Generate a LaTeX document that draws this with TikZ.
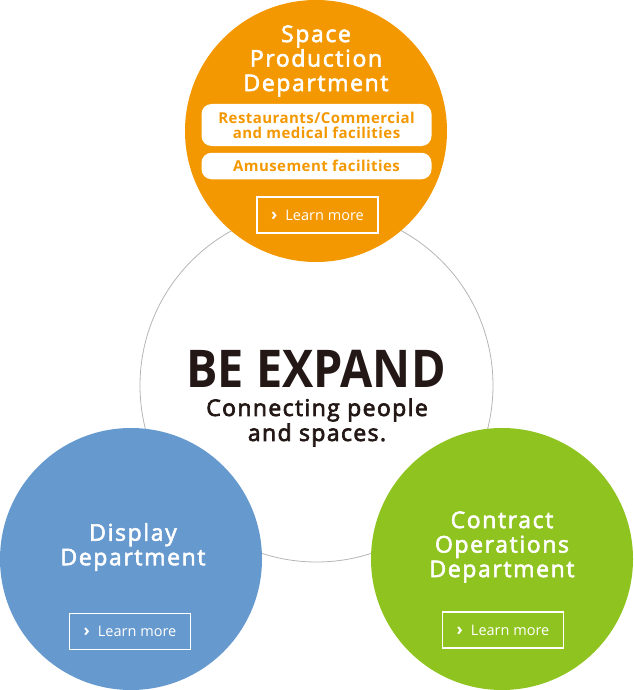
\documentclass[tikz,border=0pt]{standalone}
\usepackage{fontspec}
\setmainfont{Open Sans}
\newfontfamily\titlefont[LetterSpace=7, FakeBold=2.5]{Open Sans}
\newfontfamily\tagfont[LetterSpace=3]{Open Sans}
\newfontfamily\slogfont[LetterSpace=6, FakeBold=3]{Open Sans}
\newfontfamily\brandfont[FakeStretch=0.9]{Open Sans}
\usepackage{xcolor}
\definecolor{spaceorange}{HTML}{F39800}
\definecolor{displayblue}{HTML}{6699CE}
\definecolor{contractgreen}{HTML}{8FC31F}
\definecolor{inkdark}{HTML}{231815}
\definecolor{ringgray}{HTML}{B5B5B5}

\begin{document}
\begin{tikzpicture}[x=1pt, y=-1pt,
  dept/.style={circle, minimum size=262pt, inner sep=0pt},
  depttitle/.style={text=white, align=center, inner sep=0pt, font=\titlefont\fontsize{23}{24.5}\selectfont},
  tagbox/.style={fill=white, rounded corners=10pt, minimum width=230pt, inner sep=0pt, text=spaceorange, align=center, font=\tagfont\bfseries\fontsize{15}{15}\selectfont},
  btn/.style={draw=white, line width=1.5pt, minimum width=121pt, minimum height=36pt, inner sep=0pt, text=white, font=\fontsize{14.5}{14.5}\selectfont}]
\useasboundingbox (0,0) rectangle (633,690);
\node[circle, draw=ringgray, line width=0.8pt, minimum size=353pt, inner sep=0pt] (ring) at (316.5,385.5) {};
\foreach \nm/\x/\y/\col in {space/316/131/spaceorange, display/131/559/displayblue, contract/502/559/contractgreen}
  \node[dept, fill=\col] (\nm) at (\x,\y) {};

\node[depttitle] (spacetitle) at (316,61) {Space\\Production\\Department};
\node[tagbox, minimum height=42pt] (tagrest) at (316.5,125) {Restaurants/Commercial\\and medical facilities};
\node[tagbox, minimum height=26.5pt] (tagamuse) at (316.5,166) {Amusement facilities};
\node[depttitle] (displaytitle) at (133,547) {Display\\Department};
\node[depttitle] (contracttitle) at (502,547) {Contract\\Operations\\Department};
\foreach \nm/\x/\y in {spacebtn/317.5/215, displaybtn/130/631.5, contractbtn/503/630}
  \node[btn] (\nm) at (\x,\y) {{\bfseries\fontsize{17}{17}\selectfont ›}\hspace{8pt}Learn more};

\node[text=inkdark, inner sep=0pt, font=\brandfont\bfseries\fontsize{52}{52}\selectfont] (brand) at (316,368.5) {BE EXPAND};
\node[text=inkdark, align=center, inner sep=0pt, font=\slogfont\fontsize{23}{25}\selectfont] (slogan) at (317,422.5) {Connecting people\\and spaces.};
\end{tikzpicture}
\end{document}
